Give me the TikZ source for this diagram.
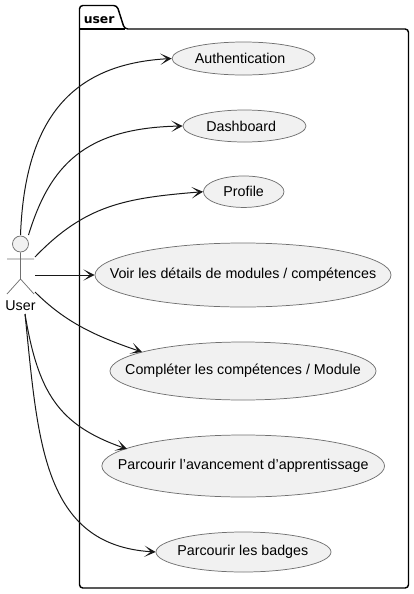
\documentclass[tikz,border=0pt]{standalone}
\usepackage{fontspec}
\setmainfont{Liberation Sans}
\newfontfamily\pkgfont{DejaVu Sans}
\usetikzlibrary{shapes.geometric,arrows.meta}
\definecolor{ink}{HTML}{181818}
\definecolor{thinink}{HTML}{707070}
\definecolor{fillgray}{HTML}{F1F1F1}
\newcommand{\uclabel}[2][0pt]{\makebox[0pt][c]{\hspace*{#1}#2}}
\tikzset{
  usecase/.style={ellipse,draw=thinink,fill=fillgray,line width=0.55pt,inner sep=0pt,font=\fontsize{10.7}{12}\selectfont,text=black},
  assoc/.style={draw=ink,line width=0.75pt,-{Stealth[length=8.5pt,width=8.5pt,inset=5pt,line width=0.75pt,fill=ink]}},
  actorline/.style={draw=thinink,line width=0.55pt},
  pkg/.style={draw=black,line width=1.1pt,line join=round},
}
\begin{document}
\begin{tikzpicture}[x=0.75pt,y=-0.75pt]
\useasboundingbox (0,0) rectangle (414,594);
% package
\draw[pkg,rounded corners=2.5pt] (79.5,29) -- (79.5,5.5) -- (117,5.5) -- (124.5,29) -- (408.5,29) -- (408.5,588) -- (79.5,588) -- cycle;
\draw[pkg] (79.5,29) -- (124.5,29);
\node[anchor=base west,inner sep=0pt,font=\pkgfont\bfseries\fontsize{9.3}{12}\selectfont] (pkgname) at (83.5,23) {user};
% use cases
\node[usecase,minimum width=107.25pt,minimum height=24.75pt] (auth) at (243.5,58.5) {\uclabel[-5pt]{Authentication}};
\node[usecase,minimum width=92.25pt,minimum height=24pt] (dash) at (244.5,126) {\uclabel[-5pt]{Dashboard}};
\node[usecase,minimum width=60.4pt,minimum height=23.6pt] (prof) at (243.7,191.7) {\uclabel{Profile}};
\node[usecase,minimum width=222pt,minimum height=48pt] (voir) at (243,275) {\uclabel{Voir les détails de modules / compétences}};
\node[usecase,minimum width=199.5pt,minimum height=43.5pt] (comp) at (243,371) {\uclabel{Compléter les compétences / Module}};
\node[usecase,minimum width=212pt,minimum height=46.5pt] (parc) at (243.2,466) {\uclabel{Parcourir l'avancement d'apprentissage}};
\node[usecase,minimum width=131.25pt,minimum height=30pt] (badg) at (243.5,552) {\uclabel[-1pt]{Parcourir les badges}};
% actor
\node[circle,actorline,fill=fillgray,minimum size=12pt,inner sep=0pt] (head) at (20.5,244) {};
\coordinate (hip) at (20.5,279);
\coordinate (armL) at (7,259);
\coordinate (armR) at (34,259);
\coordinate (legL) at (7,294);
\coordinate (legR) at (34,294);
\draw[actorline] (head.south) -- (hip) (armL) -- (armR) (legL) -- (hip) -- (legR);
\node[font=\fontsize{10.7}{12}\selectfont,inner sep=0pt] (usr) at (20.5,306) {User};
% connector origins
\coordinate (s1) at (20.5,235);
\coordinate (s2) at (28.5,235);
\coordinate (s3) at (35,257);
\coordinate (s4) at (35,275);
\coordinate (s5) at (35,292);
\coordinate (s6) at (25,314);
\coordinate (s7) at (25,314);
\coordinate (e5) at (142,352);
\coordinate (e6) at (127,449);
% connectors
\draw[assoc] (s1) .. controls (25,118) and (72,64) .. (auth.west);
\draw[assoc] (s2) .. controls (50,165) and (85,128) .. (dash.west);
\draw[assoc] (s3) .. controls (85,205) and (125,198) .. (prof.west);
\draw[assoc] (s4) -- (voir.west);
\draw[assoc] (s5) .. controls (65,322) and (95,336) .. (e5);
\draw[assoc] (s6) .. controls (38,392) and (58,425) .. (e6);
\draw[assoc] (s7) .. controls (38,440) and (42,545) .. (badg.west);
\end{tikzpicture}
\end{document}
